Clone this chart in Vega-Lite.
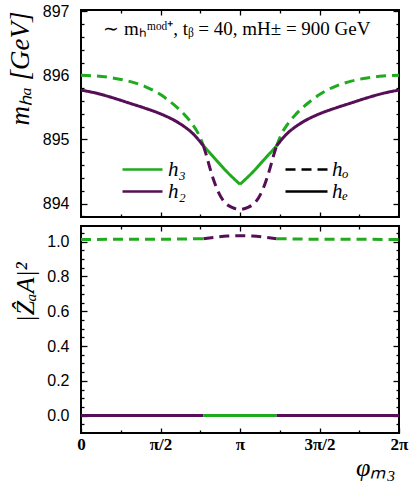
{
  "$schema": "https://vega.github.io/schema/vega-lite/v6.json",
  "padding": {"left": 5, "top": 2, "right": 6, "bottom": 4},
  "spacing": -4,
  "config": {
    "view": {"stroke": "black", "strokeWidth": 2},
    "axis": {"domain": false, "grid": false, "tickColor": "black", "labelColor": "black", "titleColor": "black", "tickWidth": 1.3}
  },
  "datasets": {
    "mass": [
      {"phi": 0, "m": 896.00, "particle": "h3", "parity": "ho", "seg": "g1"},
      {"phi": 0.1, "m": 895.99, "particle": "h3", "parity": "ho", "seg": "g1"},
      {"phi": 0.2, "m": 895.96, "particle": "h3", "parity": "ho", "seg": "g1"},
      {"phi": 0.3, "m": 895.91, "particle": "h3", "parity": "ho", "seg": "g1"},
      {"phi": 0.4, "m": 895.83, "particle": "h3", "parity": "ho", "seg": "g1"},
      {"phi": 0.5, "m": 895.70, "particle": "h3", "parity": "ho", "seg": "g1"},
      {"phi": 0.55, "m": 895.61, "particle": "h3", "parity": "ho", "seg": "g1"},
      {"phi": 0.6, "m": 895.51, "particle": "h3", "parity": "ho", "seg": "g1"},
      {"phi": 0.65, "m": 895.39, "particle": "h3", "parity": "ho", "seg": "g1"},
      {"phi": 0.7, "m": 895.24, "particle": "h3", "parity": "ho", "seg": "g1"},
      {"phi": 0.74, "m": 895.08, "particle": "h3", "parity": "ho", "seg": "g1"},
      {"phi": 0.77, "m": 894.90, "particle": "h3", "parity": "ho", "seg": "g1"},
      {"phi": 0.77, "m": 894.90, "particle": "h3", "parity": "he", "seg": "g2a"},
      {"phi": 0.85, "m": 894.68, "particle": "h3", "parity": "he", "seg": "g2a"},
      {"phi": 0.92, "m": 894.49, "particle": "h3", "parity": "he", "seg": "g2a"},
      {"phi": 1.0, "m": 894.30, "particle": "h3", "parity": "he", "seg": "g2a"},
      {"phi": 1.0, "m": 894.30, "particle": "h3", "parity": "he", "seg": "g2b"},
      {"phi": 1.08, "m": 894.49, "particle": "h3", "parity": "he", "seg": "g2b"},
      {"phi": 1.15, "m": 894.68, "particle": "h3", "parity": "he", "seg": "g2b"},
      {"phi": 1.23, "m": 894.90, "particle": "h3", "parity": "he", "seg": "g2b"},
      {"phi": 1.23, "m": 894.90, "particle": "h3", "parity": "ho", "seg": "g3"},
      {"phi": 1.26, "m": 895.08, "particle": "h3", "parity": "ho", "seg": "g3"},
      {"phi": 1.3, "m": 895.24, "particle": "h3", "parity": "ho", "seg": "g3"},
      {"phi": 1.35, "m": 895.39, "particle": "h3", "parity": "ho", "seg": "g3"},
      {"phi": 1.4, "m": 895.51, "particle": "h3", "parity": "ho", "seg": "g3"},
      {"phi": 1.45, "m": 895.61, "particle": "h3", "parity": "ho", "seg": "g3"},
      {"phi": 1.5, "m": 895.70, "particle": "h3", "parity": "ho", "seg": "g3"},
      {"phi": 1.6, "m": 895.83, "particle": "h3", "parity": "ho", "seg": "g3"},
      {"phi": 1.7, "m": 895.91, "particle": "h3", "parity": "ho", "seg": "g3"},
      {"phi": 1.8, "m": 895.96, "particle": "h3", "parity": "ho", "seg": "g3"},
      {"phi": 1.9, "m": 895.99, "particle": "h3", "parity": "ho", "seg": "g3"},
      {"phi": 2.0, "m": 896.00, "particle": "h3", "parity": "ho", "seg": "g3"},
      {"phi": 0, "m": 895.77, "particle": "h2", "parity": "he", "seg": "p1"},
      {"phi": 0.1, "m": 895.72, "particle": "h2", "parity": "he", "seg": "p1"},
      {"phi": 0.2, "m": 895.65, "particle": "h2", "parity": "he", "seg": "p1"},
      {"phi": 0.3, "m": 895.57, "particle": "h2", "parity": "he", "seg": "p1"},
      {"phi": 0.4, "m": 895.49, "particle": "h2", "parity": "he", "seg": "p1"},
      {"phi": 0.5, "m": 895.40, "particle": "h2", "parity": "he", "seg": "p1"},
      {"phi": 0.6, "m": 895.28, "particle": "h2", "parity": "he", "seg": "p1"},
      {"phi": 0.65, "m": 895.20, "particle": "h2", "parity": "he", "seg": "p1"},
      {"phi": 0.7, "m": 895.10, "particle": "h2", "parity": "he", "seg": "p1"},
      {"phi": 0.77, "m": 894.90, "particle": "h2", "parity": "he", "seg": "p1"},
      {"phi": 0.77, "m": 894.90, "particle": "h2", "parity": "ho", "seg": "p2"},
      {"phi": 0.79, "m": 894.74, "particle": "h2", "parity": "ho", "seg": "p2"},
      {"phi": 0.81, "m": 894.56, "particle": "h2", "parity": "ho", "seg": "p2"},
      {"phi": 0.83, "m": 894.40, "particle": "h2", "parity": "ho", "seg": "p2"},
      {"phi": 0.86, "m": 894.20, "particle": "h2", "parity": "ho", "seg": "p2"},
      {"phi": 0.9, "m": 894.03, "particle": "h2", "parity": "ho", "seg": "p2"},
      {"phi": 0.95, "m": 893.94, "particle": "h2", "parity": "ho", "seg": "p2"},
      {"phi": 1.0, "m": 893.91, "particle": "h2", "parity": "ho", "seg": "p2"},
      {"phi": 1.05, "m": 893.94, "particle": "h2", "parity": "ho", "seg": "p2"},
      {"phi": 1.1, "m": 894.03, "particle": "h2", "parity": "ho", "seg": "p2"},
      {"phi": 1.14, "m": 894.20, "particle": "h2", "parity": "ho", "seg": "p2"},
      {"phi": 1.17, "m": 894.40, "particle": "h2", "parity": "ho", "seg": "p2"},
      {"phi": 1.19, "m": 894.56, "particle": "h2", "parity": "ho", "seg": "p2"},
      {"phi": 1.21, "m": 894.74, "particle": "h2", "parity": "ho", "seg": "p2"},
      {"phi": 1.23, "m": 894.90, "particle": "h2", "parity": "ho", "seg": "p2"},
      {"phi": 1.23, "m": 894.90, "particle": "h2", "parity": "he", "seg": "p3"},
      {"phi": 1.3, "m": 895.10, "particle": "h2", "parity": "he", "seg": "p3"},
      {"phi": 1.35, "m": 895.20, "particle": "h2", "parity": "he", "seg": "p3"},
      {"phi": 1.4, "m": 895.28, "particle": "h2", "parity": "he", "seg": "p3"},
      {"phi": 1.5, "m": 895.40, "particle": "h2", "parity": "he", "seg": "p3"},
      {"phi": 1.6, "m": 895.49, "particle": "h2", "parity": "he", "seg": "p3"},
      {"phi": 1.7, "m": 895.57, "particle": "h2", "parity": "he", "seg": "p3"},
      {"phi": 1.8, "m": 895.65, "particle": "h2", "parity": "he", "seg": "p3"},
      {"phi": 1.9, "m": 895.72, "particle": "h2", "parity": "he", "seg": "p3"},
      {"phi": 2.0, "m": 895.77, "particle": "h2", "parity": "he", "seg": "p3"}
    ],
    "zaa": [
      {"phi": 0, "z": 1.013, "particle": "h3", "parity": "ho", "seg": "g1"},
      {"phi": 0.5, "z": 1.014, "particle": "h3", "parity": "ho", "seg": "g1"},
      {"phi": 0.77, "z": 1.017, "particle": "h3", "parity": "ho", "seg": "g1"},
      {"phi": 0.77, "z": 1.017, "particle": "h2", "parity": "ho", "seg": "p2"},
      {"phi": 0.85, "z": 1.026, "particle": "h2", "parity": "ho", "seg": "p2"},
      {"phi": 0.92, "z": 1.032, "particle": "h2", "parity": "ho", "seg": "p2"},
      {"phi": 1.0, "z": 1.034, "particle": "h2", "parity": "ho", "seg": "p2"},
      {"phi": 1.08, "z": 1.032, "particle": "h2", "parity": "ho", "seg": "p2"},
      {"phi": 1.15, "z": 1.026, "particle": "h2", "parity": "ho", "seg": "p2"},
      {"phi": 1.23, "z": 1.017, "particle": "h2", "parity": "ho", "seg": "p2"},
      {"phi": 1.23, "z": 1.017, "particle": "h3", "parity": "ho", "seg": "g3"},
      {"phi": 1.5, "z": 1.014, "particle": "h3", "parity": "ho", "seg": "g3"},
      {"phi": 2.0, "z": 1.013, "particle": "h3", "parity": "ho", "seg": "g3"},
      {"phi": 0, "z": 0, "particle": "h2", "parity": "he", "seg": "p1"},
      {"phi": 0.77, "z": 0, "particle": "h2", "parity": "he", "seg": "p1"},
      {"phi": 0.77, "z": 0, "particle": "h3", "parity": "he", "seg": "g2"},
      {"phi": 1.23, "z": 0, "particle": "h3", "parity": "he", "seg": "g2"},
      {"phi": 1.23, "z": 0, "particle": "h2", "parity": "he", "seg": "p3"},
      {"phi": 2.0, "z": 0, "particle": "h2", "parity": "he", "seg": "p3"}
    ]
  },
  "vconcat": [
    {
      "width": 318,
      "height": 207,
      "layer": [
        {
          "data": {"name": "mass"},
          "mark": {"type": "line", "strokeWidth": 3, "interpolate": "monotone"},
          "encoding": {
            "x": {"field": "phi", "type": "quantitative", "scale": {"domain": [0, 2], "nice": false},
              "axis": {"orient": "bottom", "title": null, "values": [0.25, 0.5, 0.75, 1, 1.25, 1.5, 1.75], "labels": false, "minExtent": 0, "maxExtent": 0,
                "tickSize": {"condition": {"test": "abs(datum.value*2 - round(datum.value*2)) < 0.001", "value": -5}, "value": -3}}},
            "y": {"field": "m", "type": "quantitative", "scale": {"domain": [893.79, 897.02], "nice": false, "zero": false},
              "axis": {"orient": "left", "title": "mₕₐ [GeV]", "titleFont": "Liberation Serif", "titleFontSize": 27, "titleFontWeight": "normal", "titleFontStyle": "italic", "titlePadding": 8, "titleY": 58,
                "values": [893.8, 894, 894.2, 894.4, 894.6, 894.8, 895, 895.2, 895.4, 895.6, 895.8, 896, 896.2, 896.4, 896.6, 896.8, 897],
                "labelExpr": "abs(datum.value - round(datum.value)) < 0.001 ? format(datum.value, '.0f') : ''",
                "labelFont": "Liberation Sans", "labelFontSize": 16, "labelPadding": 18, "labelOverlap": false,
                "tickSize": {"condition": {"test": "abs(datum.value - round(datum.value)) < 0.001", "value": -6}, "value": -3}}},
            "color": {"field": "particle", "type": "nominal",
              "scale": {"domain": ["h3", "h2"], "range": ["#1faa1f", "#560f56"]},
              "legend": {"orient": "none", "legendX": 40, "legendY": 148, "title": null, "symbolType": "M-1,0H3", "symbolSize": 400, "symbolStrokeWidth": 2.5, "symbolDash": [1, 0],
                "labelFont": "Liberation Serif", "labelFontSize": 21, "labelFontStyle": "italic", "labelOffset": 24, "rowPadding": -1,
                "labelExpr": "datum.label == 'h3' ? 'h₃' : 'h₂'"}},
            "strokeDash": {"field": "parity", "type": "nominal",
              "scale": {"domain": ["ho", "he"], "range": [[10, 6], [1, 0]]},
              "legend": {"orient": "none", "legendX": 203, "legendY": 148, "title": null, "symbolType": "M-1,0H3.2", "symbolSize": 400, "symbolStrokeWidth": 2.5, "symbolStrokeColor": "black",
                "labelFont": "Liberation Serif", "labelFontSize": 21, "labelFontStyle": "italic", "labelOffset": 25, "rowPadding": -1,
                "labelExpr": "datum.label == 'ho' ? 'hₒ' : 'hₑ'"}},
            "detail": {"field": "seg"}
          }
        },
        {
          "data": {"name": "mass"},
          "mark": {"type": "line", "opacity": 0},
          "encoding": {
            "x": {"field": "phi", "type": "quantitative",
              "axis": {"orient": "top", "title": null, "values": [0.25, 0.5, 0.75, 1, 1.25, 1.5, 1.75], "labels": false, "minExtent": 0, "maxExtent": 0,
                "tickSize": {"condition": {"test": "abs(datum.value*2 - round(datum.value*2)) < 0.001", "value": -5}, "value": -3}}},
            "y": {"field": "m", "type": "quantitative",
              "axis": {"orient": "right", "title": null, "labels": false, "minExtent": 0, "maxExtent": 0,
                "values": [893.8, 894, 894.2, 894.4, 894.6, 894.8, 895, 895.2, 895.4, 895.6, 895.8, 896, 896.2, 896.4, 896.6, 896.8, 897],
                "tickSize": {"condition": {"test": "abs(datum.value - round(datum.value)) < 0.001", "value": -6}, "value": -3}}},
            "detail": {"field": "seg"}
          }
        },
        {
          "data": {"values": [{"note": "∼ mₕᵐᵒᵈ⁺, tᵦ = 40, mH± = 900 GeV"}]},
          "mark": {"type": "text", "font": "Liberation Serif", "fontSize": 19, "color": "black"},
          "encoding": {
            "x": {"datum": 0.98, "type": "quantitative", "axis": null},
            "y": {"datum": 896.72, "type": "quantitative", "axis": null},
            "text": {"field": "note"}
          }
        }
      ],
      "resolve": {"axis": {"x": "independent", "y": "independent"}}
    },
    {
      "width": 318,
      "height": 207,
      "layer": [
        {
          "data": {"name": "zaa"},
          "mark": {"type": "line", "strokeWidth": 3, "interpolate": "monotone"},
          "encoding": {
            "x": {"field": "phi", "type": "quantitative", "scale": {"domain": [0, 2], "nice": false},
              "axis": {"orient": "bottom", "title": "φₘ₃", "titleFont": "Liberation Serif", "titleFontSize": 26, "titleFontStyle": "italic", "titleFontWeight": "normal", "titleAnchor": "end", "titlePadding": 0, "titleX": 314,
                "values": [0, 0.25, 0.5, 0.75, 1, 1.25, 1.5, 1.75, 2],
                "labelExpr": "datum.value == 0 ? '0' : datum.value == 0.5 ? 'π/2' : datum.value == 1 ? 'π' : datum.value == 1.5 ? '3π/2' : datum.value == 2 ? '2π' : ''",
                "labelFont": "Liberation Serif", "labelFontSize": 17, "labelFontWeight": "bold", "labelFlush": false, "labelOverlap": false, "labelPadding": 8,
                "tickSize": {"condition": {"test": "abs(datum.value*2 - round(datum.value*2)) < 0.001", "value": -5}, "value": -3}}},
            "y": {"field": "z", "type": "quantitative", "scale": {"domain": [-0.1, 1.09], "nice": false, "zero": false},
              "axis": {"orient": "left", "title": "|ẐₐA|²", "titleFont": "Liberation Serif", "titleFontSize": 26, "titleFontWeight": "normal", "titleFontStyle": "italic", "titlePadding": 8, "titleY": 66,
                "values": [-0.05, 0, 0.05, 0.1, 0.15, 0.2, 0.25, 0.3, 0.35, 0.4, 0.45, 0.5, 0.55, 0.6, 0.65, 0.7, 0.75, 0.8, 0.85, 0.9, 0.95, 1.0, 1.05],
                "labelExpr": "abs(datum.value*5 - round(datum.value*5)) < 0.001 ? format(datum.value, '.1f') : ''",
                "labelFont": "Liberation Sans", "labelFontSize": 16, "labelPadding": 18, "labelOverlap": false,
                "tickSize": {"condition": {"test": "abs(datum.value*5 - round(datum.value*5)) < 0.001", "value": -6}, "value": -3}}},
            "color": {"field": "particle", "type": "nominal", "scale": {"domain": ["h3", "h2"], "range": ["#1faa1f", "#560f56"]}, "legend": null},
            "strokeDash": {"field": "parity", "type": "nominal", "scale": {"domain": ["ho", "he"], "range": [[10, 6], [1, 0]]}, "legend": null},
            "detail": {"field": "seg"}
          }
        },
        {
          "data": {"name": "zaa"},
          "mark": {"type": "line", "opacity": 0},
          "encoding": {
            "x": {"field": "phi", "type": "quantitative",
              "axis": {"orient": "top", "title": null, "values": [0.25, 0.5, 0.75, 1, 1.25, 1.5, 1.75], "labels": false, "minExtent": 0, "maxExtent": 0,
                "tickSize": {"condition": {"test": "abs(datum.value*2 - round(datum.value*2)) < 0.001", "value": -5}, "value": -3}}},
            "y": {"field": "z", "type": "quantitative",
              "axis": {"orient": "right", "title": null, "labels": false, "minExtent": 0, "maxExtent": 0,
                "values": [-0.05, 0, 0.05, 0.1, 0.15, 0.2, 0.25, 0.3, 0.35, 0.4, 0.45, 0.5, 0.55, 0.6, 0.65, 0.7, 0.75, 0.8, 0.85, 0.9, 0.95, 1.0, 1.05],
                "tickSize": {"condition": {"test": "abs(datum.value*5 - round(datum.value*5)) < 0.001", "value": -6}, "value": -3}}},
            "detail": {"field": "seg"}
          }
        }
      ],
      "resolve": {"axis": {"x": "independent", "y": "independent"}}
    }
  ]
}
